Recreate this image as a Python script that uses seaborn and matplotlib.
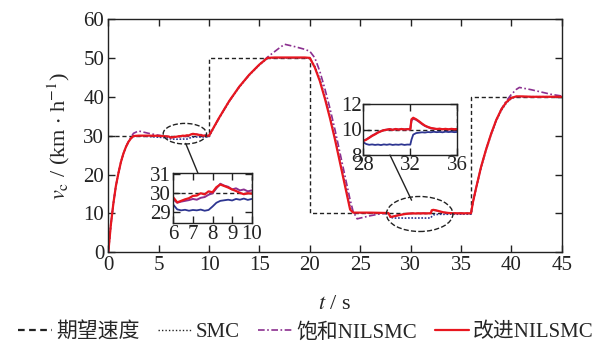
import matplotlib
matplotlib.use('Agg')
import matplotlib.pyplot as plt
from matplotlib.patches import Ellipse, ConnectionPatch
import numpy as np
import pandas as pd
import seaborn as sns

# desired speed (step profile)
t_ref = [0, 10, 10, 20, 20, 36, 36, 45]
v_ref = [30, 30, 50, 50, 10, 10, 40, 40]

# zoom window 1 (t = 6..10), read at 0.2 s
t_win1 = [6.0, 6.2, 6.4, 6.6, 6.8, 7.0, 7.2, 7.4, 7.6, 7.8, 8.0,
          8.2, 8.4, 8.6, 8.8, 9.0, 9.2, 9.4, 9.6, 9.8, 10.0]
red_win1 = [29.78, 29.52, 29.6, 29.68, 29.74, 29.86, 29.88, 30.0, 29.94, 30.1, 30.05,
            30.32, 30.46, 30.38, 30.3, 30.2, 30.12, 30.02, 29.95, 30.0, 29.98]
pur_win1 = [29.68, 29.5, 29.56, 29.6, 29.64, 29.7, 29.66, 29.76, 29.8, 29.92, 30.0,
            30.26, 30.5, 30.4, 30.34, 30.2, 30.26, 30.15, 30.2, 30.1, 30.15]
smc_win1 = [29.4, 29.15, 29.1, 29.13, 29.08, 29.12, 29.1, 29.14, 29.08, 29.12, 29.3,
            29.5, 29.6, 29.63, 29.66, 29.62, 29.7, 29.66, 29.72, 29.65, 29.7]

# zoom window 2 (t = 28..36)
t_win2 = [28.0, 28.25, 28.5, 28.75, 29.0, 29.25, 29.5, 29.75, 30.0, 30.25, 30.5,
          30.75, 31.0, 31.25, 31.5, 31.75, 32.0, 32.1, 32.25, 32.5, 32.75, 33.0,
          33.25, 33.5, 33.75, 34.0, 34.25, 34.5, 34.75, 35.0, 35.25, 35.5, 35.75, 36.0]
red_win2 = [9.1, 9.2, 9.35, 9.5, 9.62, 9.76, 9.86, 9.95, 9.98, 10.03, 9.97,
            10.04, 9.99, 10.04, 10.0, 10.03, 10.02, 10.8, 10.92, 10.8, 10.64, 10.46,
            10.3, 10.2, 10.12, 10.08, 10.04, 10.06, 10.02, 10.05, 10.01, 10.05, 10.02, 10.04]
pur_win2 = [9.12, 9.22, 9.36, 9.52, 9.64, 9.78, 9.87, 9.95, 9.99, 10.02, 9.98,
            10.03, 10.0, 10.03, 10.01, 10.02, 10.01, 10.7, 10.85, 10.76, 10.6, 10.42,
            10.28, 10.18, 10.1, 10.06, 10.03, 10.05, 10.02, 10.04, 10.0, 10.04, 10.01, 10.03]
smc_win2 = [9.0, 8.86, 8.8, 8.83, 8.79, 8.82, 8.78, 8.83, 8.8, 8.84, 8.79,
            8.82, 8.8, 8.84, 8.79, 8.82, 8.81, 9.2, 9.6, 9.72, 9.75, 9.78,
            9.76, 9.8, 9.78, 9.82, 9.79, 9.81, 9.78, 9.83, 9.8, 9.82, 9.79, 9.81]

# main curves outside the zoom windows
t_a = [0, 0.25, 0.5, 0.75, 1.0, 1.25, 1.5, 1.75, 2.0, 2.25, 2.5, 3.0, 4.0, 5.0]
red_a = [0, 7, 12.5, 17, 20.3, 23.2, 25.4, 27.1, 28.4, 29.3, 29.9, 30.0, 30.0, 29.95]
pur_a = [0, 7, 12.5, 17, 20.3, 23.2, 25.4, 27.1, 28.5, 29.6, 30.6, 31.2, 30.6, 30.1]
smc_a = [0, 7, 12.5, 17, 20.3, 23.2, 25.4, 27.1, 28.4, 29.3, 29.8, 29.9, 29.8, 29.6]

t_b = [10.5, 11, 12, 13, 14, 15, 15.8, 16.5, 17, 17.5, 18.5, 19.5, 20,
       20.5, 21, 21.5, 22, 22.5, 23, 23.5, 24, 24.3, 24.7, 25, 26, 27, 27.8]
red_b = [32.3, 34.6, 38.9, 42.6, 45.7, 48.3, 50.0, 50.1, 50.1, 50.1, 50.1, 50.1, 50.0,
         47.5, 44, 39.5, 34.5, 29, 23, 17, 11, 10.2, 10.2, 10.2, 10.2, 10.15, 10.1]
pur_b = [32.3, 34.6, 38.9, 42.6, 45.7, 48.3, 50.2, 51.6, 52.6, 53.5, 52.9, 52.2, 51.7,
         50, 46.5, 42, 37, 31.5, 25.5, 19.5, 13.5, 10.5, 8.6, 8.8, 9.4, 9.9, 10.0]
smc_b = [32.2, 34.5, 38.8, 42.5, 45.6, 48.2, 49.9, 50.0, 50.0, 50.0, 50.0, 50.0, 49.9,
         47.8, 44.5, 40, 35, 29.5, 23.5, 17.5, 11.5, 10.1, 10.1, 10.1, 10.1, 10.1, 10.05]

t_c = [36.2, 36.5, 37, 37.5, 38, 38.5, 39, 39.5, 40, 40.5, 40.8, 41, 42, 43, 44, 45]
red_c = [13, 16.5, 22, 26.5, 30.5, 34, 36.7, 38.6, 39.7, 40.1, 40.1, 40.1, 40.0, 40.0, 40.0, 40.0]
pur_c = [13, 16.5, 22, 26.5, 30.5, 34, 36.8, 38.9, 40.6, 41.9, 42.4, 42.3, 41.8, 41.2, 40.6, 40.2]
smc_c = [13, 16.4, 21.8, 26.3, 30.3, 33.8, 36.5, 38.4, 39.6, 40.0, 40.0, 40.0, 40.0, 40.0, 40.0, 40.0]


def join(*parts):
    out = []
    for p in parts:
        out += list(p)
    return out


t_all = join(t_a, t_win1, t_b, t_win2, t_c)
series = {
    'SMC': join(smc_a, smc_win1, smc_b, smc_win2, smc_c),
    '饱和NILSMC': join(pur_a, pur_win1, pur_b, pur_win2, pur_c),
    '改进NILSMC': join(red_a, red_win1, red_b, red_win2, red_c),
}

c_ref = '#222222'
c_smc = '#2d3591'
c_pur = '#8b2f8f'
c_red = '#e8171f'

sns.set_theme(style='ticks')
plt.rcParams['font.family'] = ['Liberation Serif', 'Noto Sans CJK SC']
plt.rcParams['mathtext.fontset'] = 'stix'
plt.rcParams['xtick.direction'] = 'in'
plt.rcParams['ytick.direction'] = 'in'
plt.rcParams['axes.edgecolor'] = '#222222'
plt.rcParams['axes.linewidth'] = 1.0

fs = 15

fig = plt.figure(figsize=(6.12, 3.42), dpi=100)
ax = fig.add_axes([108.3 / 612, (342 - 252.3) / 342, 453.4 / 612, 233.3 / 342])


def draw_lines(a, t_vals, smc, pur, red, inset):
    sns.lineplot(x=t_ref, y=v_ref, ax=a, color=c_ref, lw=1.0, linestyle=(0, (3, 2)),
                 sort=False, estimator=None)
    sns.lineplot(x=t_vals, y=smc, ax=a, color=c_smc, lw=1.3 if inset else 1.2,
                 linestyle='-' if inset else (0, (1, 1)), sort=False, estimator=None)
    sns.lineplot(x=t_vals, y=pur, ax=a, color=c_pur, lw=1.4 if inset else 1.2,
                 linestyle='-' if inset else (0, (4, 1.5, 1, 1.5)), sort=False, estimator=None)
    sns.lineplot(x=t_vals, y=red, ax=a, color=c_red, lw=1.6, sort=False, estimator=None)


draw_lines(ax, t_all, series['SMC'], series['饱和NILSMC'], series['改进NILSMC'], False)

ax.set_xlim(0, 45)
ax.set_ylim(0, 60)
ax.set_xticks(np.arange(0, 46, 5))
ax.set_yticks(np.arange(0, 61, 10))
ax.tick_params(top=True, right=True, length=5, width=1, labelsize=fs, pad=3, colors='#222222')
ax.set_xlabel('$t$ / s', fontsize=fs + 1, labelpad=14)
ax.set_ylabel(r'$v_\mathrm{c}$ / (km $\cdot$ h$^{-1}$)', fontsize=fs + 1, labelpad=8)

# dashed ellipses marking zoomed regions
ax.add_patch(Ellipse((7.6, 30.5), 4.3, 5.3, fill=False, ls='--', lw=1.0, ec='#222222', zorder=5))
ax.add_patch(Ellipse((30.9, 9.85), 6.6, 9.0, fill=False, ls='--', lw=1.0, ec='#222222', zorder=5))

# inset 1
ax1 = fig.add_axes([173.3 / 612, (342 - 222.7) / 342, 78.4 / 612, 49.4 / 342])
draw_lines(ax1, t_win1, smc_win1, pur_win1, red_win1, True)
ax1.set_xlim(6, 10)
ax1.set_ylim(28.45, 31.05)
ax1.set_xticks([6, 7, 8, 9, 10])
ax1.set_yticks([29, 30, 31])
ax1.tick_params(top=True, right=True, length=5, width=1, labelsize=fs, pad=2, colors='#222222')
ax1.set_xlabel('')
ax1.set_ylabel('')

# inset 2
ax2 = fig.add_axes([363.3 / 612, (342 - 155) / 342, 94 / 612, 51 / 342])
draw_lines(ax2, t_win2, smc_win2, pur_win2, red_win2, True)
ax2.set_xlim(28, 36)
ax2.set_ylim(8, 12)
ax2.set_xticks([28, 32, 36])
ax2.set_yticks([8, 10, 12])
ax2.tick_params(top=True, right=True, length=5, width=1, labelsize=fs, pad=1, colors='#222222')
ax2.set_xlabel('')
ax2.set_ylabel('')

# connector lines
fig.add_artist(ConnectionPatch(xyA=(7.68, 28.0), coordsA=ax.transData,
                               xyB=(7.26, 31.05), coordsB=ax1.transData, color='#222222', lw=1.0))
fig.add_artist(ConnectionPatch(xyA=(30.1, 13.4), coordsA=ax.transData,
                               xyB=(30.27, 8), coordsB=ax2.transData, color='#222222', lw=1.0))

# legend
handles = [
    plt.Line2D([], [], color=c_ref, lw=1.6, linestyle=(0, (3, 2))),
    plt.Line2D([], [], color=c_ref, lw=1.0, linestyle=(0, (1, 1.5))),
    plt.Line2D([], [], color=c_pur, lw=1.2, linestyle=(0, (4, 1.5, 1, 1.5))),
    plt.Line2D([], [], color=c_red, lw=1.6),
]
labels = ['期望速度', 'SMC', '饱和NILSMC', '改进NILSMC']
fig.legend(handles, labels, loc='center', bbox_to_anchor=(0.5, 0.028), ncol=4, frameon=False,
           fontsize=fs, handlelength=1.6, handletextpad=0.2, columnspacing=0.9, borderaxespad=0,
           borderpad=0.1)

fig.savefig('out.png', dpi=100)
